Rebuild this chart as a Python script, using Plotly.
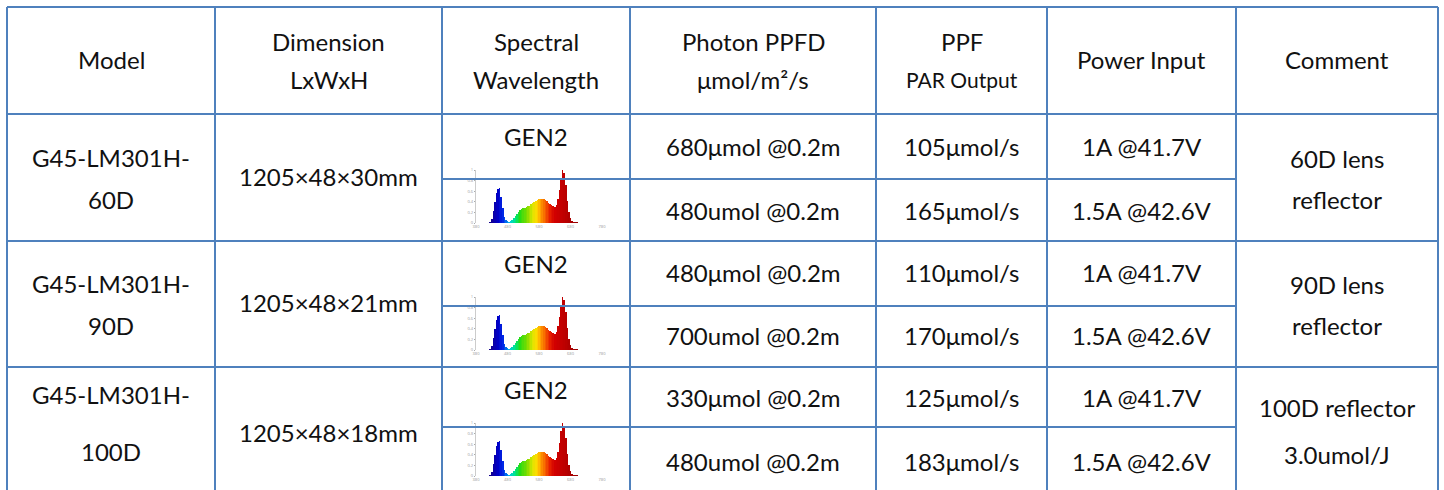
import plotly.graph_objects as go
import numpy as np

# ---------------- data ----------------
header_lines = [["Model"], ["Dimension", "LxWxH"], ["Spectral", "Wavelength"],
                ["Photon PPFD", "μmol/m²/s"], ["PPF", "PAR Output"],
                ["Power Input"], ["Comment"]]
models = [["G45-LM301H-", "60D"], ["G45-LM301H-", "90D"], ["G45-LM301H-", "100D"]]
dimensions = ["1205×48×30mm", "1205×48×21mm", "1205×48×18mm"]
spectral = ["GEN2", "GEN2", "GEN2"]
ppfd = [["680μmol @0.2m", "480umol @0.2m"],
        ["480μmol @0.2m", "700umol @0.2m"],
        ["330μmol @0.2m", "480umol @0.2m"]]
ppf = [["105μmol/s", "165μmol/s"],
       ["110μmol/s", "170μmol/s"],
       ["125μmol/s", "183μmol/s"]]
power = [["1A @41.7V", "1.5A @42.6V"],
         ["1A @41.7V", "1.5A @42.6V"],
         ["1A @41.7V", "1.5A @42.6V"]]
comments = [["60D lens", "reflector"], ["90D lens", "reflector"], ["100D reflector", "3.0umol/J"]]

# spectrum (GEN2, relative intensity vs wavelength nm)
spec_wl = [425, 430, 435, 440, 445, 450, 455, 460, 465, 470, 475, 480, 485, 490, 495,
           500, 505, 510, 515, 520, 525, 530, 535, 540, 545, 550, 555, 560, 565, 570,
           575, 580, 585, 590, 595, 600, 605, 610, 615, 620, 625, 630, 635, 640, 645,
           650, 655, 660, 665, 670, 675, 680, 685, 690, 695, 700, 705]
spec_val = [0.02, 0.08, 0.22, 0.40, 0.56, 0.65, 0.66, 0.50, 0.28, 0.12, 0.05, 0.03, 0.02, 0.03, 0.05,
            0.09, 0.13, 0.17, 0.21, 0.24, 0.26, 0.28, 0.29, 0.30, 0.32, 0.33, 0.35, 0.37, 0.39, 0.41,
            0.43, 0.45, 0.46, 0.46, 0.45, 0.43, 0.41, 0.38, 0.36, 0.34, 0.32, 0.31, 0.34, 0.45, 0.62,
            0.85, 1.00, 0.95, 0.72, 0.42, 0.20, 0.09, 0.04, 0.02, 0.01, 0.01, 0.005]
spec_xticks = [380, 480, 580, 680, 780]
spec_yticks = [0, 0.2, 0.4, 0.6, 0.8, 1.0]

# ---------------- layout constants (pixels) ----------------
W, H = 1444, 490
FONT = "Lato"
FS = 24
LINE_COLOR = "#4F81BD"
col_edges = [7, 215, 442, 630, 876, 1047, 1236, 1438]
top_y, header_bottom = 7, 114
group_tops = [114, 241, 367]
group_bottoms = [241, 367, 499]
sub_divs = [179, 306, 427]
sub_centers = [[146, 210], [272, 335], [397, 461]]
model_y = [[157, 199], [283, 325], [394, 451]]
comment_y = [[158, 199], [284, 325], [407, 454]]
dim_y = [176, 302, 432]
col_cx = [(col_edges[i] + col_edges[i + 1]) / 2 for i in range(7)]

# wavelength -> colour anchors (style)
anc_wl = [425, 450, 465, 480, 490, 505, 520, 540, 560, 572, 585, 600, 615, 630, 660, 705]
anc_rgb = [(20, 0, 140), (0, 0, 200), (0, 40, 230), (0, 140, 240), (0, 210, 220), (0, 230, 120),
           (40, 220, 20), (120, 220, 0), (220, 230, 0), (255, 220, 0), (255, 160, 0), (245, 90, 0),
           (230, 30, 0), (210, 0, 0), (190, 0, 0), (150, 0, 0)]


def wl_color(w):
    r = np.interp(w, anc_wl, [c[0] for c in anc_rgb])
    g = np.interp(w, anc_wl, [c[1] for c in anc_rgb])
    b = np.interp(w, anc_wl, [c[2] for c in anc_rgb])
    return f"rgb({int(r)},{int(g)},{int(b)})"


spec_colors = [wl_color(w) for w in spec_wl]

fig = go.Figure()
fig.add_trace(go.Scatter(x=[0, W], y=[0, H], mode="markers", marker=dict(opacity=0),
                         hoverinfo="skip", showlegend=False))

shapes = []


def hline(y, x0, x1):
    shapes.append(dict(type="line", xref="x", yref="y", x0=x0, x1=x1, y0=y, y1=y,
                       line=dict(color=LINE_COLOR, width=2)))


def vline(x, y0, y1):
    shapes.append(dict(type="line", xref="x", yref="y", x0=x, x1=x, y0=y0, y1=y1,
                       line=dict(color=LINE_COLOR, width=2)))


for x in col_edges:
    vline(x, top_y, group_bottoms[-1])
for y in [top_y, header_bottom] + group_bottoms:
    hline(y, col_edges[0], col_edges[-1])
for y in sub_divs:
    hline(y, col_edges[2], col_edges[6])

annotations = []


def txt(x, y, s, size=FS):
    annotations.append(dict(x=x, y=y, xref="x", yref="y", text=s, showarrow=False,
                            xanchor="center", yanchor="middle",
                            font=dict(family=FONT, size=size, color="#111111")))


for i, lines in enumerate(header_lines):
    if len(lines) == 1:
        txt(col_cx[i], 59, lines[0])
    else:
        txt(col_cx[i], 41, lines[0])
        txt(col_cx[i], 79, lines[1], size=21 if lines[1] == "PAR Output" else FS)

for g in range(3):
    for k in range(2):
        txt(col_cx[0], model_y[g][k], models[g][k])
        txt(col_cx[6], comment_y[g][k], comments[g][k])
        txt(col_cx[3], sub_centers[g][k], ppfd[g][k])
        txt(col_cx[4], sub_centers[g][k], ppf[g][k])
        txt(col_cx[5], sub_centers[g][k], power[g][k])
    txt(col_cx[1], dim_y[g], dimensions[g])
    txt(col_cx[2], group_tops[g] + 22, spectral[g])

layout_axes = {}
for g in range(3):
    n = g + 2
    T = group_tops[g]
    fig.add_trace(go.Bar(x=spec_wl, y=spec_val, width=5, marker=dict(color=spec_colors, line=dict(width=0)),
                         xaxis=f"x{n}", yaxis=f"y{n}", showlegend=False, hoverinfo="skip"))
    layout_axes[f"xaxis{n}"] = dict(domain=[476 / W, 602 / W], range=[380, 780], anchor=f"y{n}",
                                    showgrid=False, zeroline=False, showline=False,
                                    tickvals=spec_xticks, ticks="", tickfont=dict(size=4, color="#999999"))
    layout_axes[f"yaxis{n}"] = dict(domain=[1 - (T + 109) / H, 1 - (T + 56) / H], range=[0, 1],
                                    anchor=f"x{n}", showgrid=False, zeroline=False,
                                    showline=True, linecolor="#aaaaaa", linewidth=0.6,
                                    tickvals=spec_yticks, ticks="outside", ticklen=1.5,
                                    tickcolor="#aaaaaa", tickfont=dict(size=4, color="#999999"))

fig.update_layout(
    width=W, height=H, margin=dict(l=0, r=0, t=0, b=0, autoexpand=False),
    paper_bgcolor="white", plot_bgcolor="rgba(0,0,0,0)",
    xaxis=dict(range=[0, W], visible=False, domain=[0, 1], fixedrange=True),
    yaxis=dict(range=[H, 0], visible=False, domain=[0, 1], fixedrange=True),
    shapes=shapes, annotations=annotations, bargap=0, showlegend=False,
    **layout_axes,
)

fig.write_html("out.html", config={"displayModeBar": False, "staticPlot": True},
               post_script="document.body.style.margin='0';document.body.style.overflow='hidden';")
